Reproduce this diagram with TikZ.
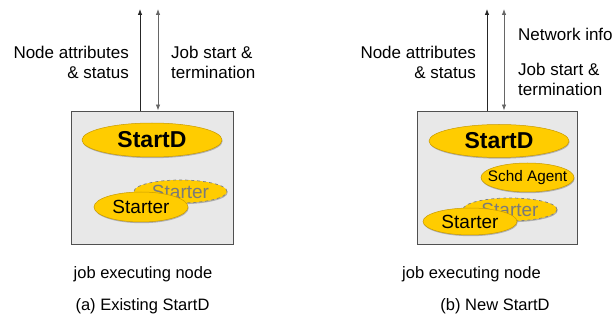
\documentclass[tikz,border=0pt]{standalone}
\usepackage{fontspec}
\setmainfont{Liberation Sans}
\usetikzlibrary{shapes.geometric,arrows.meta,shadows}
\definecolor{procfill}{HTML}{FFCC00}
\definecolor{procedge}{HTML}{C89A00}
\definecolor{boxfill}{HTML}{E8E8E8}
\definecolor{boxedge}{HTML}{505050}
\definecolor{ghosttext}{HTML}{7A7A7A}
\tikzset{
  hostbox/.style={draw=boxedge, line width=0.9pt, fill=boxfill, minimum width=#1, minimum height=133pt, inner sep=0pt},
  proc/.style={ellipse, fill=procfill, draw=procedge, line width=0.5pt, inner sep=0pt,
    drop shadow={shadow xshift=0.6pt, shadow yshift=-1.2pt, fill=black!45, opacity=0.6}},
  ghostproc/.style={proc, draw=gray, dashed, line width=0.7pt},
  lbl/.style={font=\fontsize{17}{20}\selectfont, inner sep=0pt},
  caption/.style={font=\fontsize{16.5}{20}\selectfont, inner sep=0pt},
  flow/.style={line width=0.8pt, draw=black!85},
  >={Latex[length=6pt,width=4.5pt]}
}
\begin{document}
\begin{tikzpicture}[x=1pt,y=-1pt]
  \useasboundingbox (0,0) rectangle (613,323);

  % ---------- (a) existing StartD ----------
  \node[hostbox=162pt] (lbox) at (152,177.5) {};
  \coordinate (la) at (140,9);
  \coordinate (lb) at (158,9);
  \draw[flow, ->] (lbox.north -| la) -- (la);
  \draw[flow, draw=black!60, <->] (lbox.north -| lb) -- (lb);
  \node[lbl, align=right, anchor=east] (lattr) at (129,62) {Node attributes\\\& status};
  \node[lbl, align=left, anchor=west] (ljob) at (171,62) {Job start \&\\termination};

  \node[proc, minimum width=140pt, minimum height=34pt,
        font=\bfseries\fontsize{23}{23}\selectfont] (lstartd) at (152,140) {StartD};
  \node[ghostproc, minimum width=93pt, minimum height=23pt, text=ghosttext,
        font=\fontsize{19}{19}\selectfont] (lghost) at (180.5,191.5) {Starter};
  \node[proc, minimum width=94pt, minimum height=30pt,
        font=\fontsize{19}{19}\selectfont] (lstarter) at (141,207) {Starter};

  \node[caption] (lcap) at (143,274) {job executing node};
  \node[caption] (lsub) at (142.5,306) {(a) Existing StartD};

  % ---------- (b) new StartD ----------
  \node[hostbox=160pt] (rbox) at (497,177.5) {};
  \coordinate (ra) at (487,9);
  \coordinate (rb) at (504,9);
  \draw[flow, ->] (rbox.north -| ra) -- (ra);
  \draw[flow, draw=black!60, <->] (rbox.north -| rb) -- (rb);
  \node[lbl, align=right, anchor=east] (rattr) at (476,62) {Node attributes\\\& status};
  \node[lbl, anchor=west] (rnet) at (518,34) {Network info};
  \node[lbl, align=left, anchor=west] (rjob) at (518,79) {Job start \&\\termination};

  \node[proc, minimum width=140pt, minimum height=33pt,
        font=\bfseries\fontsize{23}{23}\selectfont] (rstartd) at (499,141) {StartD};
  \node[proc, minimum width=93pt, minimum height=29pt,
        label={[font=\fontsize{15.3}{15.3}\selectfont, inner sep=0pt]center:Schd Agent}] (ragent) at (527.5,177.5) {};
  \node[ghostproc, minimum width=94pt, minimum height=23pt, text=ghosttext,
        font=\fontsize{19}{19}\selectfont] (rghost) at (510,209.5) {Starter};
  \node[proc, minimum width=94pt, minimum height=27pt,
        font=\fontsize{19}{19}\selectfont] (rstarter) at (470,221.5) {Starter};

  \node[caption] (rcap) at (471.5,274) {job executing node};
  \node[caption] (rsub) at (495,306) {(b) New StartD};
\end{tikzpicture}
\end{document}
